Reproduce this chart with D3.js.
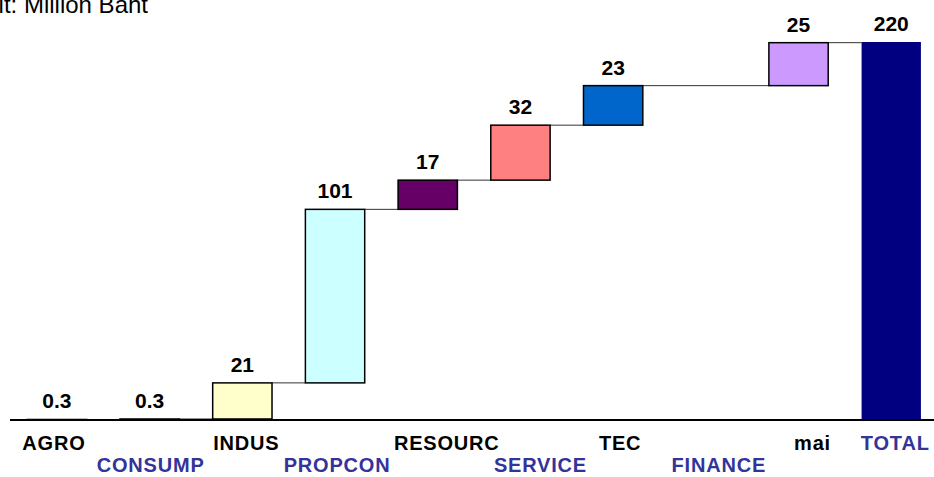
<!DOCTYPE html>
<meta charset="utf-8">
<script src="https://d3js.org/d3.v7.min.js"></script>
<style>
body { margin: 0; background: #fff; }
text { font-family: "Liberation Sans", Arial, sans-serif; }
</style>
<div id="chart"></div>
<script>
// data
var categories = ["AGRO", "CONSUMP", "INDUS", "PROPCON", "RESOURC", "SERVICE", "TEC", "FINANCE", "mai", "TOTAL"];
var values     = [0.3, 0.3, 21, 101, 17, 32, 23, 0, 25, 220];
var valueLabels = ["0.3", "0.3", "21", "101", "17", "32", "23", "", "25", "220"];
var barColors  = ["#ffffcc", "#ffffcc", "#ffffcc", "#ccffff", "#660066", "#ff8080", "#0066cc", "#ffffff", "#cc99ff", "#000080"];
var yTicks = [0, 220];

var width = 934, height = 477;

var svg = d3.select("#chart").append("svg")
    .attr("width", width)
    .attr("height", height);

var x = d3.scaleBand()
    .domain(categories)
    .range([10.6, 937.6])
    .paddingInner(0.36)
    .paddingOuter(0.18);

var y = d3.scaleLinear()
    .domain(d3.extent(yTicks))
    .range([420, 42]);

// cumulative positions
var rows = [];
var run = 0;
categories.forEach(function(c, i) {
  var isTotal = (c == "TOTAL");
  var start = isTotal ? 0 : run;
  var end = isTotal ? values[i] : run + values[i];
  if (!isTotal) run = end;
  rows.push({cat: c, val: values[i], label: valueLabels[i], start: start, end: end, color: barColors[i], total: isTotal});
});
var shown = rows.filter(function(d) { return d.val > 0; });

// title (cut at the top like the original)
svg.append("text")
    .attr("x", 148)
    .attr("y", 13)
    .attr("text-anchor", "end")
    .style("font-size", "24px")
    .text("Unit: Million Baht");

// connectors between visible bars (the empty FINANCE slot is bridged)
for (var i = 0; i < shown.length - 1; i++) {
  var lvl = shown[i].end;
  svg.append("line")
      .attr("x1", x(shown[i].cat) + x.bandwidth())
      .attr("x2", x(shown[i + 1].cat))
      .attr("y1", y(lvl))
      .attr("y2", y(lvl))
      .attr("stroke", "#333")
      .attr("stroke-width", 1);
}

// bars
svg.append("g").selectAll("rect")
  .data(shown)
  .enter().append("rect")
    .attr("x", function(d) { return x(d.cat); })
    .attr("y", function(d) { return y(d.end); })
    .attr("width", x.bandwidth())
    .attr("height", function(d) { return Math.max(0.5, y(d.start) - y(d.end)); })
    .attr("fill", function(d) { return d.color; })
    .attr("stroke", function(d) { return d.total ? "none" : "#000"; })
    .attr("stroke-width", 1.5);

// value labels
svg.append("g").selectAll("text")
  .data(shown)
  .enter().append("text")
    .attr("x", function(d) { return x(d.cat) + x.bandwidth() / 2; })
    .attr("y", function(d) { return y(d.end) - 11; })
    .attr("text-anchor", "middle")
    .style("font-size", "21px")
    .style("font-weight", "bold")
    .text(function(d) { return d.label; });

// baseline
svg.append("line")
    .attr("x1", 10).attr("x2", 934)
    .attr("y1", y(0)).attr("y2", y(0))
    .attr("stroke", "#000")
    .attr("stroke-width", 2);

// category labels, staggered in two rows (text boxes sit a little off-centre)
var labelShift = [-3, 1, 4, 2, 19, 20, 7, 13, 14, 4];
svg.append("g").selectAll("text")
  .data(categories)
  .enter().append("text")
    .attr("x", function(d, i) { return x(d) + x.bandwidth() / 2 + labelShift[i]; })
    .attr("y", function(d, i) { return (i % 2 == 0 || d == "TOTAL") ? 450 : 472; })
    .attr("text-anchor", "middle")
    .style("font-size", "20px")
    .style("font-weight", "bold")
    .style("letter-spacing", "0.8px")
    .attr("fill", function(d, i) { return (i % 2 == 1 || d == "TOTAL") ? "#333399" : "#000"; })
    .text(function(d) { return d; });
</script>
